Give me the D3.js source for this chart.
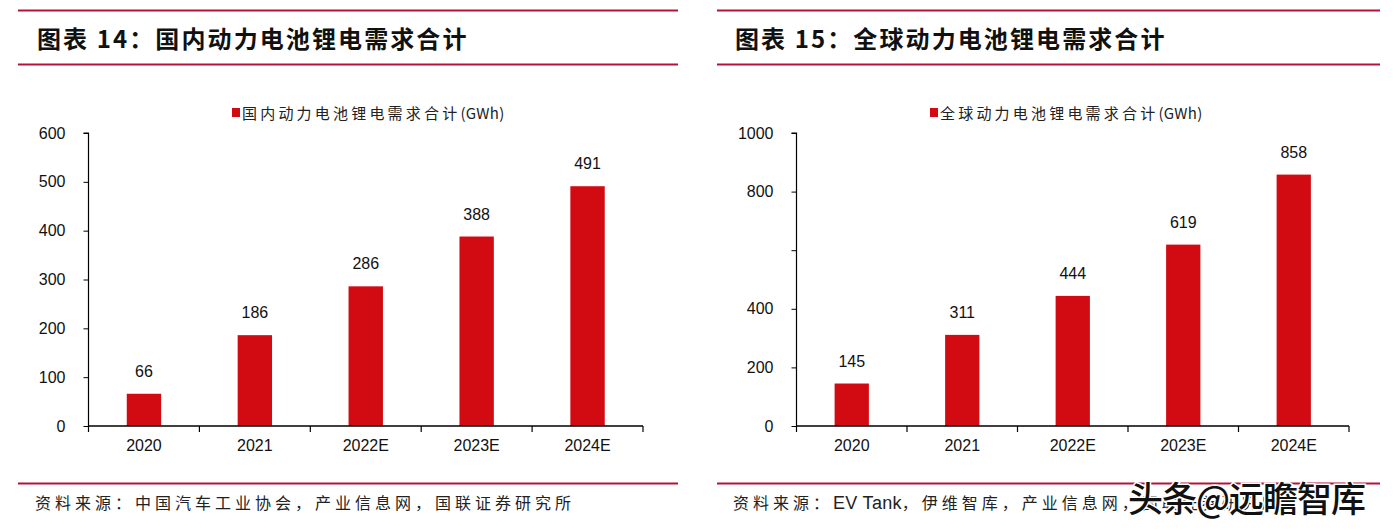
<!DOCTYPE html>
<html>
<head>
<meta charset="utf-8">
<script src="https://cdn.jsdelivr.net/npm/d3@7/dist/d3.min.js"></script>
<style>
  html, body { margin: 0; padding: 0; background: #fff; }
  svg { display: block; }
</style>
</head>
<body>
<svg id="chart" width="1399" height="531"></svg>
<script>
// ---- data ----
const categories = ["2020", "2021", "2022E", "2023E", "2024E"];
const domesticValues = [66, 186, 286, 388, 491];
const globalValues = [145, 311, 444, 619, 858];
const domesticTicks = [0, 100, 200, 300, 400, 500, 600];
const domesticTickLabels = ["0", "100", "200", "300", "400", "500", "600"];
const globalTicks = [0, 200, 400, 600, 800, 1000];
const globalTickLabels = ["0", "200", "400", "", "800", "1000"];
const titles = ["图表 14：国内动力电池锂电需求合计", "图表 15：全球动力电池锂电需求合计"];
const legendLabels = ["国内动力电池锂电需求合计", "全球动力电池锂电需求合计"];
const legendUnit = "(GWh)";
const sourcePieces = [
  [["资料来源：中国汽车工业协会，产业信息网，国联证券研究所", "cjk"]],
  [["资料来源：", "cjk"], ["EV Tank", "lat"], ["，伊维智库，产业信息网，国联证券研究所", "cjk"]]
];
const watermark = "头条@远瞻智库";

// ---- styles ----
const BAR = "#D20A11";
const RULE = "#B5123A";
const CJK = "'Noto Sans CJK SC', 'Noto Sans', sans-serif";
const NUM = "'Liberation Sans', Arial, sans-serif";

const svg = d3.select("#chart");

const panels = [
  { px0: 18, px1: 678, tx: 37, ax0: 88.5, ax1: 643, values: domesticValues, ticks: domesticTicks, tickLabels: domesticTickLabels, max: 600, legendX: 232, title: titles[0], legend: legendLabels[0], source: sourcePieces[0] },
  { px0: 717, px1: 1380, tx: 735, ax0: 796.5, ax1: 1349, values: globalValues, ticks: globalTicks, tickLabels: globalTickLabels, max: 1000, legendX: 930, title: titles[1], legend: legendLabels[1], source: sourcePieces[1] }
];

const yBase = 426, yTop = 133;

panels.forEach(p => {
  const g = svg.append("g");
  // rules
  [10.5, 64.5, 483.5].forEach(y => {
    g.append("line").attr("x1", p.px0).attr("x2", p.px1).attr("y1", y).attr("y2", y)
      .attr("stroke", RULE).attr("stroke-width", 2.2);
  });
  // title
  g.append("text").attr("x", p.tx).attr("y", 48)
    .attr("font-family", CJK).attr("font-weight", 700).attr("font-size", 24)
    .attr("letter-spacing", 2.1).attr("fill", "#111").text(p.title);

  // legend
  g.append("rect").attr("x", p.legendX).attr("y", 108).attr("width", 8).attr("height", 9).attr("fill", BAR);
  const lt = g.append("text").attr("x", p.legendX + 10).attr("y", 119)
    .attr("font-family", CJK).attr("font-size", 15).attr("fill", "#222");
  lt.append("tspan").attr("letter-spacing", 3.2).text(p.legend);
  lt.append("tspan").attr("font-family", CJK).attr("letter-spacing", 0.3).text(legendUnit);

  // scales
  const x = d3.scaleBand().domain(categories).range([p.ax0, p.ax1]).paddingInner(0.69).paddingOuter(0.345);
  const y = d3.scaleLinear().domain([0, p.max]).range([yBase, yTop]);

  // bars
  g.selectAll("rect.bar").data(p.values).join("rect").attr("class", "bar")
    .attr("x", (d, i) => x(categories[i]))
    .attr("width", x.bandwidth())
    .attr("y", d => y(d))
    .attr("height", d => yBase - y(d))
    .attr("fill", BAR);

  // value labels
  g.selectAll("text.val").data(p.values).join("text").attr("class", "val")
    .attr("x", (d, i) => x(categories[i]) + x.bandwidth() / 2)
    .attr("y", d => y(d) - 17)
    .attr("text-anchor", "middle")
    .attr("font-family", NUM).attr("font-size", 16).attr("fill", "#111")
    .text(d => d);

  // y axis
  const yAxis = d3.axisLeft(y).tickValues(p.ticks).tickSize(5).tickPadding(18)
    .tickFormat((d, i) => p.tickLabels[i]);
  const ya = g.append("g").attr("transform", `translate(${p.ax0},0)`).call(yAxis);
  ya.select(".domain").attr("stroke", "#000").attr("stroke-width", 1.2)
    .attr("d", `M-5,${yTop}H0V${yBase}`);
  ya.selectAll(".tick line").attr("stroke", "#000");
  ya.selectAll(".tick text").attr("font-family", NUM).attr("font-size", 16).attr("fill", "#111");

  // x axis
  const xAxis = d3.axisBottom(x).tickSize(0).tickPadding(14);
  const xa = g.append("g").attr("transform", `translate(0,${yBase})`).call(xAxis);
  xa.select(".domain").attr("stroke", "#000").attr("stroke-width", 1.5).attr("d", `M${p.ax0},0H${p.ax1}`);
  xa.selectAll(".tick text").attr("font-family", NUM).attr("font-size", 16).attr("fill", "#111");
  const step = x.step();
  const bounds = d3.range(categories.length + 1).map(i => p.ax0 + i * step);
  xa.selectAll("line.sep").data(bounds).join("line").attr("class", "sep")
    .attr("x1", d => d).attr("x2", d => d).attr("y1", 0).attr("y2", 6)
    .attr("stroke", "#000").attr("stroke-width", 1.2);

  // source
  const src = g.append("text").attr("x", p.tx - 2).attr("y", 509)
    .attr("font-family", CJK).attr("font-size", 16).attr("fill", "#222");
  p.source.forEach(([t, kind]) => {
    if (kind === "lat") {
      src.append("tspan").attr("font-family", NUM).attr("font-size", 18).attr("letter-spacing", 0.3).text(t);
    } else {
      src.append("tspan").attr("letter-spacing", 4).text(t);
    }
  });
});

// watermark
svg.append("text").attr("x", 1128).attr("y", 512)
  .attr("font-family", CJK).attr("font-size", 35).attr("font-weight", 500)
  .attr("fill", "#111").attr("stroke", "#fff").attr("stroke-width", 3)
  .attr("paint-order", "stroke").attr("letter-spacing", -1)
  .text(watermark);
</script>
</body>
</html>
